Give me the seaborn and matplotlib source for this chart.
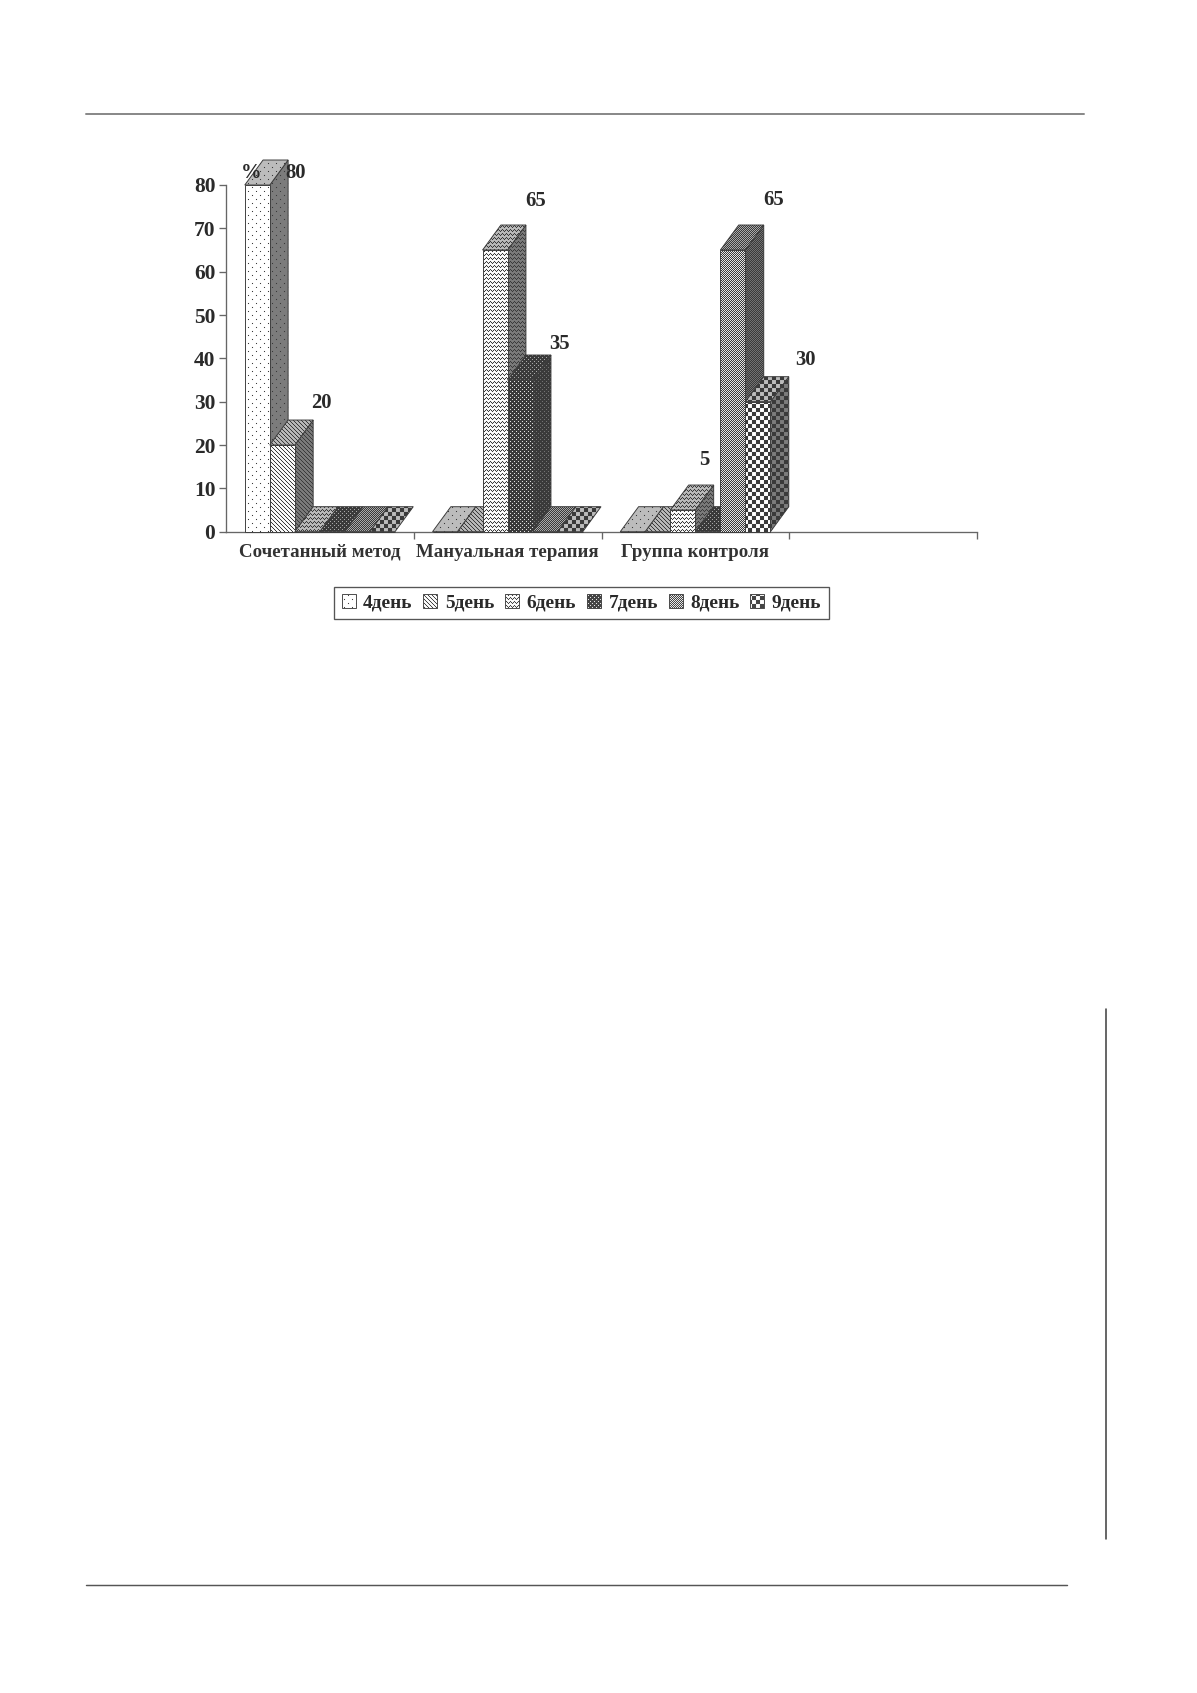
import numpy as np
import pandas as pd
import matplotlib
matplotlib.use("Agg")
import matplotlib.pyplot as plt
import matplotlib.hatch as mhatch
from matplotlib.lines import Line2D
from matplotlib.patches import Patch, Polygon
from matplotlib.path import Path
import seaborn as sns

# ---------- data ----------
categories = ["Сочетанный метод", "Мануальная терапия", "Группа контроля", " "]
days = ["4день", "5день", "6день", "7день", "8день", "9день"]
day4 = [80, 0, 0]
day5 = [20, 0, 0]
day6 = [0, 65, 5]
day7 = [0, 35, 0]
day8 = [0, 0, 65]
day9 = [0, 0, 30]
series = [day4, day5, day6, day7, day8, day9]
y_ticks = [0, 10, 20, 30, 40, 50, 60, 70, 80]

W, H, DPI = 1197, 1693, 96

# ---------- pixel-level hatch patterns (tile = 96 px) ----------
def _on(kind, x, y):
    if kind == ".":    # sparse staggered dots
        return (x % 8 == 0 and y % 8 == 0) or (x % 8 == 4 and y % 8 == 4)
    if kind == "\\":   # fine diagonal
        return (x + y) % 4 == 0
    if kind == "-":    # small zigzag waves
        return (y - [0, 1, 2, 1][x % 4]) % 4 == 0
    if kind == "o":    # dark with light dots
        return (x % 4, y % 4) not in ((0, 0), (2, 2))
    if kind == "+":    # fine checks
        return (x + y) % 2 == 0
    if kind == "x":    # coarse checks
        return ((x // 4) + (y // 4)) % 2 == 0
    return False


class BitmapHatch(mhatch.HatchPatternBase):
    def __init__(self, hatch, density):
        self.kind = next((c for c in "\\.-o+x" if c in hatch), "")
        self.cells = [(x, y) for y in range(DPI) for x in range(DPI)
                      if _on(self.kind, x, y)] if self.kind else []
        self.num_vertices = 5 * len(self.cells)

    def set_vertices_and_codes(self, vertices, codes):
        s = 1.0 / DPI
        for i, (x, y) in enumerate(self.cells):
            vertices[5 * i:5 * i + 5] = [(x * s, y * s), ((x + 1) * s, y * s),
                                         ((x + 1) * s, (y + 1) * s), (x * s, (y + 1) * s),
                                         (x * s, y * s)]
            codes[5 * i:5 * i + 5] = [Path.MOVETO, Path.LINETO, Path.LINETO,
                                      Path.LINETO, Path.CLOSEPOLY]


mhatch._hatch_types[:] = [BitmapHatch]

sns.set_theme(style="white")
plt.rcParams["font.family"] = ["Liberation Serif", "DejaVu Serif"]
plt.rcParams["font.weight"] = "bold"
plt.rcParams["hatch.linewidth"] = 0.05
INK = "#2a2a2a"
AXIS = "#666666"
EDGE = "#3a3a3a"

hatches = [".", "\\", "-", "o", "+", "x"]

df = pd.DataFrame({
    "method": [c for c in categories[:3] for _ in days],
    "day": days * 3,
    "percent": [s[i] for i in range(3) for s in series],
})

fig = plt.figure(figsize=(W / DPI, H / DPI), dpi=DPI, facecolor="white")
X0, X1, Y0, Y1 = 226, 977, 531.7, 185
ax = fig.add_axes([X0 / W, 1 - Y0 / H, (X1 - X0) / W, (Y0 - Y1) / H])

sns.barplot(data=df, x="method", y="percent", hue="day", order=categories,
            hue_order=days, width=0.8, gap=0, dodge=True, legend=False,
            palette=["white"] * 6, edgecolor=EDGE, linewidth=0.7,
            saturation=1, ax=ax, errorbar=None)

ax.set_xlim(-0.5, 3.5)
ax.set_ylim(0, 80)

DEPTH_X = 18.3 / ((X1 - X0) / 4)     # category units
DEPTH_Y = 25 / ((Y0 - Y1) / 80)      # value units

for i, (container, h) in enumerate(zip(ax.containers, hatches)):
    for bar in container:
        x, w, v = bar.get_x(), bar.get_width(), bar.get_height()
        z = 3 + i + 0.1
        if v > 0:
            ax.add_patch(Polygon([(x + w, 0), (x + w + DEPTH_X, DEPTH_Y),
                                  (x + w + DEPTH_X, v + DEPTH_Y), (x + w, v)],
                                 closed=True, facecolor="#7c7c7c", edgecolor=EDGE,
                                 linewidth=0.7, hatch=h, zorder=z, clip_on=False))
        ax.add_patch(Polygon([(x, v), (x + w, v), (x + w + DEPTH_X, v + DEPTH_Y),
                              (x + DEPTH_X, v + DEPTH_Y)],
                             closed=True, facecolor="#bcbcbc", edgecolor=EDGE,
                             linewidth=0.7, hatch=h, zorder=z + 0.1, clip_on=False))
        bar.set_hatch(h)
        bar.set_zorder(z + 0.2)
        bar.set_clip_on(False)

# data labels: pixel offset from the top-centre of the bar
label_offsets = {(0, 0): (38, 12), (1, 0): (39, 42), (2, 1): (41, 49), (3, 1): (39, 36),
                 (2, 2): (21, 50), (4, 2): (41, 50), (5, 2): (47, 42)}
for (i, j), off in label_offsets.items():
    bar = ax.containers[i][j]
    ax.annotate(f"{int(bar.get_height())}",
                (bar.get_x() + bar.get_width() / 2, bar.get_height()),
                xytext=off, textcoords="offset pixels", ha="center", va="center",
                fontsize=15.5, color=INK, zorder=20, annotation_clip=False)

# axes styling
sns.despine(ax=ax, top=True, right=True)
for side in ("left", "bottom"):
    ax.spines[side].set_color(AXIS)
    ax.spines[side].set_linewidth(1.0)
ax.set_xlabel("")
ax.set_ylabel("")
ax.set_yticks(y_ticks)
ax.tick_params(axis="y", left=True, length=5, width=1, color=AXIS, pad=3,
               labelsize=16, labelcolor=INK)
ax.set_xticks([0.5, 1.5, 2.5, 3.5], labels=[""] * 4)
ax.tick_params(axis="x", which="major", bottom=True, length=5, width=1, color=AXIS)
ax.set_xticks([0, 1, 2], labels=categories[:3], minor=True)
ax.tick_params(axis="x", which="minor", bottom=False, length=0, pad=9,
               labelsize=14.2, labelcolor="#333333")
ax.set_facecolor("none")

fig.text(250.7 / W, 1 - 173 / H, "%", ha="center", va="center", fontsize=15.5,
         color=INK, zorder=20)

# legend
handles = [Patch(facecolor="white", edgecolor="#444444", linewidth=0.7, hatch=h, label=d)
           for h, d in zip(hatches, days)]
leg = ax.legend(handles=handles, ncol=6, loc="center",
                bbox_to_anchor=(581.5 / W, 1 - 603 / H), bbox_transform=fig.transFigure,
                frameon=True, fancybox=False, framealpha=1, edgecolor="#555555",
                fontsize=14.5, labelcolor="#2a2a2a", handlelength=0.72, handleheight=0.72,
                handletextpad=0.4, columnspacing=0.55, borderpad=0.38, borderaxespad=0)
leg.get_frame().set_linewidth(1.0)
leg.set_zorder(25)

# page rules
def rule(x0, y0, x1, y1, color, lw):
    fig.add_artist(Line2D([x0 / W, x1 / W], [1 - y0 / H, 1 - y1 / H],
                          transform=fig.transFigure, color=color, linewidth=lw))

rule(86, 114, 1084, 114, "#8a8a8a", 1.5)
rule(86, 1584.5, 1067, 1584.5, "#555555", 1.1)
rule(1106, 1009, 1106, 1539, "#444444", 1.2)

fig.savefig("out.png", dpi=DPI, facecolor="white")
